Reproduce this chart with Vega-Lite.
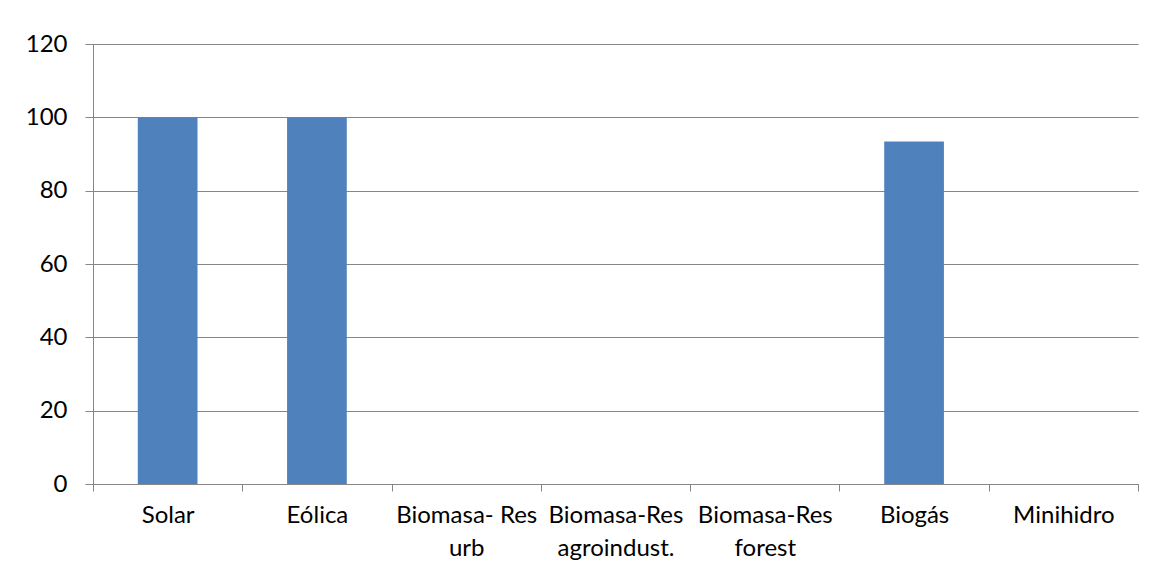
{
  "$schema": "https://vega.github.io/schema/vega-lite/v6.json",
  "autosize": "none",
  "width": 1045,
  "height": 440,
  "padding": {"left": 93, "top": 44, "right": 15, "bottom": 90},
  "background": "white",
  "config": {
    "view": {"stroke": null},
    "font": "Lato",
    "axis": {"labelFont": "Lato", "labelFontSize": 24, "labelColor": "#000000"}
  },
  "data": {
    "values": [
      {"fuente": "Solar", "valor": 100},
      {"fuente": "Eólica", "valor": 100},
      {"fuente": "Biomasa- Res urb", "valor": 0},
      {"fuente": "Biomasa-Res agroindust.", "valor": 0},
      {"fuente": "Biomasa-Res forest", "valor": 0},
      {"fuente": "Biogás", "valor": 93.4},
      {"fuente": "Minihidro", "valor": 0}
    ]
  },
  "mark": {"type": "bar", "color": "#4F81BD", "width": {"band": 0.4}},
  "encoding": {
    "x": {
      "field": "fuente",
      "type": "nominal",
      "sort": null,
      "scale": {"paddingInner": 0, "paddingOuter": 0},
      "axis": {
        "title": null,
        "labelAngle": 0,
        "tickBand": "extent",
        "grid": false,
        "domainColor": "#868686",
        "tickColor": "#868686",
        "tickSize": 7,
        "labelPadding": 12,
        "labelLineHeight": 33,
        "labelBaseline": "top",
        "labelExpr": "length(datum.label) > 12 ? [slice(datum.label, 0, lastindexof(datum.label, ' ')), slice(datum.label, lastindexof(datum.label, ' ') + 1)] : datum.label"
      }
    },
    "y": {
      "field": "valor",
      "type": "quantitative",
      "scale": {"domain": [0, 120], "nice": false},
      "axis": {
        "title": null,
        "values": [0, 20, 40, 60, 80, 100, 120],
        "grid": true,
        "gridColor": "#868686",
        "domainColor": "#868686",
        "tickColor": "#868686",
        "tickSize": 8,
        "labelPadding": 18
      }
    }
  }
}
